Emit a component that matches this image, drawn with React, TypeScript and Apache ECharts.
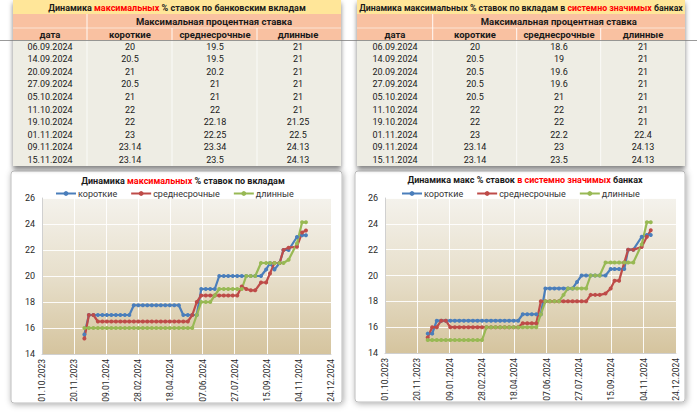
import React, { useEffect, useRef } from "react";
import * as echarts from "echarts";

// ---- data ----
const DATES = [
  "06.12.2023", "13.12.2023", "20.12.2023", "27.12.2023",
  "03.01.2024", "10.01.2024", "17.01.2024", "24.01.2024", "31.01.2024",
  "07.02.2024", "14.02.2024", "21.02.2024", "28.02.2024",
  "06.03.2024", "13.03.2024", "20.03.2024", "27.03.2024",
  "03.04.2024", "10.04.2024", "17.04.2024", "24.04.2024",
  "01.05.2024", "08.05.2024", "15.05.2024", "22.05.2024", "29.05.2024",
  "05.06.2024", "12.06.2024", "19.06.2024", "26.06.2024",
  "03.07.2024", "10.07.2024", "17.07.2024", "24.07.2024", "31.07.2024",
  "07.08.2024", "14.08.2024", "21.08.2024", "28.08.2024",
  "06.09.2024", "14.09.2024", "20.09.2024", "27.09.2024",
  "05.10.2024", "11.10.2024", "19.10.2024",
  "01.11.2024", "09.11.2024", "15.11.2024",
];

const SERIES_NAMES = ["короткие", "среднесрочные", "длинные"];

// all banks
const BANKS_SHORT = [
  15.5, 17, 17, 17, 17, 17, 17, 17, 17, 17, 17,
  17.75, 17.75, 17.75, 17.75, 17.75, 17.75, 17.75, 17.75, 17.75, 17.75, 17.75,
  17, 17, 17, 17,
  19, 19, 19, 19,
  20, 20, 20, 20, 20, 20, 20, 20, 20, 20,
  20.5, 21, 20.5, 21, 22, 22, 23, 23.14, 23.14,
];
const BANKS_MID = [
  15.2, 17, 17,
  16.5, 16.5, 16.5, 16.5, 16.5, 16.5, 16.5, 16.5, 16.5, 16.5, 16.5,
  16.5, 16.5, 16.5, 16.5, 16.5, 16.5, 16.5, 16.5, 16.5, 16.5,
  17, 18, 18.5,
  18.5, 18.5, 18.5, 18.5, 18.5, 18.5, 18.5, 18.5,
  19.2, 19, 18.9, 18.9,
  19.5, 19.5, 20.2, 21, 21, 22, 22.18, 22.25, 23.34, 23.5,
];
const BANKS_LONG = [
  16, 16, 16, 16, 16, 16, 16, 16, 16, 16, 16, 16, 16,
  16, 16, 16, 16, 16, 16, 16, 16, 16, 16, 16, 16,
  17, 18, 18, 18, 18.5, 19,
  19, 19, 19, 19, 19,
  20, 20, 20,
  21, 21, 21, 21, 21, 21, 21.25, 22.5, 24.13, 24.13,
];

// systemically important banks
const SIB_SHORT = [
  15.5, 15.5,
  16.5, 16.5, 16.5, 16.5, 16.5, 16.5, 16.5, 16.5, 16.5, 16.5,
  16.5, 16.5, 16.5, 16.5, 16.5, 16.5, 16.5, 16.5, 16.5,
  17, 17, 17, 17, 17,
  19, 19, 19, 19, 19, 19, 19,
  19.5,
  20, 20, 20, 20, 20, 20,
  20.5, 20.5, 20.5, 20.5, 22, 22, 23, 23.14, 23.14,
];
const SIB_MID = [
  15.2, 16, 16, 16.5, 16.5,
  16, 16, 16, 16, 16, 16, 16, 16, 16, 16, 16, 16, 16, 16, 16, 16,
  16.3, 16.3, 16.3, 16.3,
  18, 18, 18, 18, 18, 18, 18, 18, 18, 18, 18,
  18.5, 18.5, 18.5,
  18.6, 19, 19.6, 19.6, 21, 22, 22, 22.2, 23, 23.5,
];
const SIB_LONG = [
  15, 15, 15, 15, 15, 15, 15, 15, 15, 15, 15, 15, 15,
  16, 16, 16, 16, 16, 16, 16, 16, 16, 16, 16, 16,
  17, 18, 18, 18, 18, 18.5,
  19, 19, 19, 19, 19,
  20, 20, 20,
  21, 21, 21, 21, 21, 21, 21, 22.4, 24.13, 24.13,
];

const TABLE_HEADERS = ["дата", "короткие", "среднесрочные", "длинные"];
const TABLE_GROUP_HEADER = "Максимальная процентная ставка";
const TABLE_ROWS = 10;

const X_START = "01.10.2023";
const X_END = "24.12.2024";
const X_STEP_DAYS = 50;
const Y_MIN = 14;
const Y_MAX = 26;
const Y_STEP = 2;

const COLORS = ["#4A7EBB", "#BE4B48", "#98B954"];
const FONT = "Roboto, 'Noto Sans', 'DejaVu Sans', sans-serif";

// ---- helpers ----
const DAY = 86400000;
const parseDate = (s: string) => {
  const [d, m, y] = s.split(".").map(Number);
  return Date.UTC(y, m - 1, d);
};
const BASE = parseDate(X_START);
const toDay = (s: string) => Math.round((parseDate(s) - BASE) / DAY);
const fmtDay = (v: number) => {
  const dt = new Date(BASE + v * DAY);
  const dd = String(dt.getUTCDate()).padStart(2, "0");
  const mm = String(dt.getUTCMonth() + 1).padStart(2, "0");
  return `${dd}.${mm}.${dt.getUTCFullYear()}`;
};

const TEXT = "#1a1a1a";

function richTitle(fontSize: number) {
  return {
    b: { fontSize, fontWeight: "bold", fontFamily: FONT, fill: TEXT, color: TEXT },
    r: { fontSize, fontWeight: "bold", fontFamily: FONT, fill: "#FF0000", color: "#FF0000" },
  };
}

function textEl(x: number, y: number, text: string, opts: any = {}) {
  return {
    type: "text",
    x,
    y,
    z: 20,
    silent: true,
    style: {
      text,
      fontSize: opts.fontSize ?? 9,
      fontWeight: opts.fontWeight ?? "normal",
      fontFamily: FONT,
      fill: opts.fill ?? TEXT,
      align: opts.align ?? "center",
      verticalAlign: "middle",
      textAlign: opts.align ?? "center",
      textVerticalAlign: "middle",
      rich: opts.rich,
    },
  };
}

function buildTable(
  x0: number,
  x1: number,
  borders: number[],
  centers: number[],
  title: string,
  titleSize: number,
  cols: number[][]
) {
  const els: any[] = [];
  const w = x1 - x0;
  const rowH = 12.6;
  const dataTop = 40;
  const bottom = dataTop + rowH * TABLE_ROWS;
  els.push({
    type: "rect",
    z: 1,
    silent: true,
    shape: { x: x0, y: 0, width: w, height: bottom },
    style: { fill: "#EEEDE4", shadowBlur: 5, shadowOffsetY: 3, shadowColor: "rgba(0,0,0,0.5)" },
  });
  els.push({ type: "rect", z: 2, silent: true, shape: { x: x0, y: 0, width: w, height: 14 }, style: { fill: "#FFE699" } });
  els.push({ type: "rect", z: 2, silent: true, shape: { x: x0, y: 14, width: w, height: 26 }, style: { fill: "#F9C1A1" } });
  els.push({
    type: "line", z: 3, silent: true,
    shape: { x1: x0, y1: 28, x2: x1, y2: 28 },
    style: { stroke: "rgba(255,255,255,0.55)", lineWidth: 1 },
  });
  els.push({
    type: "line", z: 3, silent: true,
    shape: { x1: borders[0], y1: 14, x2: borders[0], y2: 40 },
    style: { stroke: "rgba(255,255,255,0.9)", lineWidth: 1 },
  });
  borders.slice(1).forEach((bx) => {
    els.push({
      type: "line", z: 3, silent: true,
      shape: { x1: bx, y1: 28, x2: bx, y2: 40 },
      style: { stroke: "rgba(255,255,255,0.9)", lineWidth: 1 },
    });
  });
  borders.forEach((bx) => {
    els.push({
      type: "line", z: 3, silent: true,
      shape: { x1: bx, y1: 40, x2: bx, y2: bottom },
      style: { stroke: "rgba(255,255,255,0.75)", lineWidth: 1 },
    });
  });
  els.push(textEl((x0 + x1) / 2, 8, title, { rich: richTitle(titleSize) }));
  els.push(textEl((borders[0] + x1) / 2, 21.5, TABLE_GROUP_HEADER, { fontWeight: "bold", fontSize: 9.5 }));
  TABLE_HEADERS.forEach((h, i) => {
    els.push(textEl(centers[i], 34.5, h, { fontWeight: "bold", fontSize: 9.5 }));
  });
  const start = DATES.length - TABLE_ROWS;
  for (let r = 0; r < TABLE_ROWS; r++) {
    const y = dataTop + rowH * r + 6.6;
    els.push(textEl(centers[0], y, DATES[start + r], { fontSize: 9 }));
    cols.forEach((arr, c) => {
      els.push(textEl(centers[c + 1], y, String(arr[start + r]), { fontSize: 9 }));
    });
  }
  return els;
}

function frame(x: number, y: number, w: number, h: number) {
  return {
    type: "rect",
    z: -10,
    silent: true,
    shape: { x, y, width: w, height: h, r: 3 },
    style: {
      fill: "#ffffff",
      stroke: "#BDBDBD",
      lineWidth: 1,
      shadowBlur: 6,
      shadowOffsetX: 1,
      shadowOffsetY: 1,
      shadowColor: "rgba(0,0,0,0.35)",
    },
  };
}

const plotBg = {
  type: "linear",
  x: 0, y: 0, x2: 0, y2: 1,
  colorStops: [
    { offset: 0, color: "#F4F2EC" },
    { offset: 0.5, color: "#E7DFCB" },
    { offset: 1, color: "#D5C49E" },
  ],
};

function xAxis(gridIndex: number) {
  return {
    type: "value",
    gridIndex,
    min: 0,
    max: toDay(X_END),
    interval: X_STEP_DAYS,
    axisLabel: {
      rotate: 90,
      formatter: (v: number) => fmtDay(v),
      fontSize: 8.5,
      color: "#2a2a2a",
      fontFamily: FONT,
      margin: 5,
    },
    axisLine: { show: true, lineStyle: { color: "#D0D0D0" } },
    axisTick: { show: false },
    splitLine: { show: true, lineStyle: { color: "rgba(255,255,255,0.9)", width: 1 } },
  };
}

function yAxis(gridIndex: number) {
  return {
    type: "value",
    gridIndex,
    min: Y_MIN,
    max: Y_MAX,
    interval: Y_STEP,
    axisLabel: { fontSize: 9, color: "#2a2a2a", fontFamily: FONT, margin: 7 },
    axisLine: { show: true, lineStyle: { color: "#D0D0D0" } },
    axisTick: { show: false },
    splitLine: { show: true, lineStyle: { color: "rgba(255,255,255,0.9)", width: 1 } },
  };
}

function lineSeries(name: string, values: number[], idx: number, color: string) {
  return {
    type: "line",
    name,
    xAxisIndex: idx,
    yAxisIndex: idx,
    data: DATES.map((d, i) => [toDay(d), values[i]]),
    symbol: "circle",
    symbolSize: 4,
    showSymbol: true,
    color,
    itemStyle: { color },
    lineStyle: { width: 2.2, color },
    emphasis: { disabled: true },
  };
}

function legend(left: number) {
  return {
    left,
    top: 189,
    padding: 0,
    itemWidth: 20,
    itemHeight: 6,
    itemGap: 13,
    selectedMode: false,
    data: SERIES_NAMES,
    textStyle: { fontSize: 9, color: "#333333", fontFamily: FONT, padding: [0, 0, 0, -3] },
  };
}

export default function App() {
  const ref = useRef<HTMLDivElement>(null);
  useEffect(() => {
    if (!ref.current) return;
    const chart = echarts.init(ref.current, undefined, { renderer: "svg" });
    const graphics: any[] = [
      ...buildTable(13, 341, [87, 172, 257], [50, 130, 215, 298],
        "{b|Динамика }{r|максимальных}{b| % ставок по банковским вкладам}", 9,
        [BANKS_SHORT, BANKS_MID, BANKS_LONG]),
      ...buildTable(357, 685, [432.7, 516.7, 600.7], [395, 475, 559, 643],
        "{b|Динамика максимальных % ставок по вкладам в }{r|системно значимых}{b| банках}", 8.8,
        [SIB_SHORT, SIB_MID, SIB_LONG]),
      {
        type: "line", z: 30, silent: true,
        shape: { x1: 0, y1: 40.5, x2: 697, y2: 40.5 },
        style: { stroke: "rgba(120,120,120,0.75)", lineWidth: 1 },
      },
      frame(11, 171, 331, 232),
      frame(355, 171, 330, 231),
      textEl(183, 181, "{b|Динамика }{r|максимальных}{b| % ставок по вкладам}", { rich: richTitle(9) }),
      textEl(525, 180, "{b|Динамика макс % ставок }{r|в системно значимых}{b| банках}", { rich: richTitle(9) }),
    ];
    chart.setOption({
      animation: false,
      backgroundColor: "#ffffff",
      textStyle: { fontFamily: FONT },
      grid: [
        { left: 42, top: 198, width: 289, height: 156, show: true, backgroundColor: plotBg, borderWidth: 0 },
        { left: 385, top: 198, width: 291, height: 155, show: true, backgroundColor: plotBg, borderWidth: 0 },
      ],
      xAxis: [xAxis(0), xAxis(1)],
      yAxis: [yAxis(0), yAxis(1)],
      legend: [legend(55), legend(401)],
      series: [
        lineSeries(SERIES_NAMES[0], BANKS_SHORT, 0, COLORS[0]),
        lineSeries(SERIES_NAMES[1], BANKS_MID, 0, COLORS[1]),
        lineSeries(SERIES_NAMES[2], BANKS_LONG, 0, COLORS[2]),
        lineSeries(SERIES_NAMES[0], SIB_SHORT, 1, COLORS[0]),
        lineSeries(SERIES_NAMES[1], SIB_MID, 1, COLORS[1]),
        lineSeries(SERIES_NAMES[2], SIB_LONG, 1, COLORS[2]),
      ],
      graphic: { elements: graphics },
    });
    return () => chart.dispose();
  }, []);
  return (
    <div
      ref={ref}
      style={{ position: "absolute", left: 0, top: 0, width: 700, height: 412 }}
    />
  );
}
